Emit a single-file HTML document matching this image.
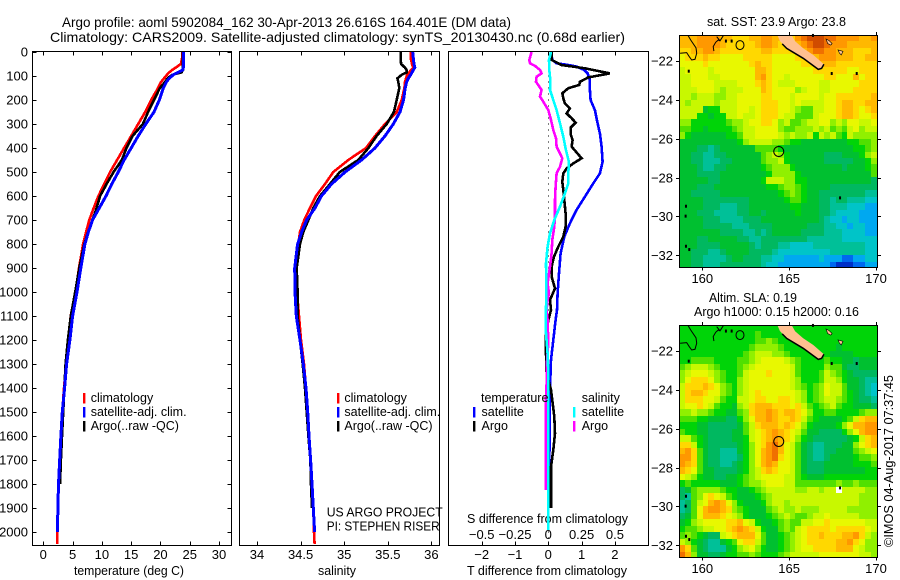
<!DOCTYPE html>
<html lang="en">
<head>
<meta charset="utf-8">
<title>Argo profile</title>
<style>
html,body{margin:0;padding:0;background:#fff;}
svg{display:block;}
text{font-family:"Liberation Sans",sans-serif;fill:#000;font-size:12.5px;}
.t{font-size:14px;}
.k{font-size:13px;}
</style>
</head>
<body>
<svg id="c" xmlns="http://www.w3.org/2000/svg" width="900" height="580" viewBox="0 0 900 580">
<text class="t" x="62" y="27" textLength="449" lengthAdjust="spacingAndGlyphs">Argo profile: aoml 5902084_162 30-Apr-2013 26.616S 164.401E (DM data)</text>
<text class="t" x="50" y="42" textLength="575" lengthAdjust="spacingAndGlyphs">Climatology: CARS2009. Satellite-adjusted climatology: synTS_20130430.nc (0.68d earlier)</text>
<text x="129" y="575" text-anchor="middle" textLength="110" lengthAdjust="spacingAndGlyphs">temperature (deg C)</text>
<text x="337" y="575" text-anchor="middle" textLength="38" lengthAdjust="spacingAndGlyphs">salinity</text>
<text x="467" y="575" textLength="160" lengthAdjust="spacingAndGlyphs">T difference from climatology</text>
<text x="467" y="523" textLength="161" lengthAdjust="spacingAndGlyphs">S difference from climatology</text>
<text x="326.7" y="516.5" textLength="116" lengthAdjust="spacingAndGlyphs">US ARGO PROJECT</text>
<text x="326.7" y="530.5" textLength="113" lengthAdjust="spacingAndGlyphs">PI: STEPHEN RISER</text>
<text x="707" y="26" textLength="139" lengthAdjust="spacingAndGlyphs">sat. SST: 23.9 Argo: 23.8</text>
<text x="709" y="302" textLength="88" lengthAdjust="spacingAndGlyphs">Altim. SLA: 0.19</text>
<text x="694" y="316" textLength="165" lengthAdjust="spacingAndGlyphs">Argo h1000: 0.15 h2000: 0.16</text>
<text transform="translate(893,547) rotate(-90)" textLength="172" lengthAdjust="spacingAndGlyphs">©IMOS 04-Aug-2017 07:37:45</text>
</svg>
<script>
// ----- profile data -----
const depths = [0,25,50,65,75,85,95,110,125,150,200,250,300,350,400,450,500,550,600,650,700,750,800,900,1000,1100,1200,1300,1400,1500,1600,1700,1800,1900,2000,2050];
const tempClim = [23.7,23.7,23.5,22.6,22.0,21.5,21.1,20.6,20.1,19.6,18.4,17.4,16.2,15.0,13.8,12.6,11.4,10.4,9.4,8.6,7.85,7.3,6.8,6.1,5.5,4.67,4.27,3.87,3.53,3.24,3.0,2.8,2.6,2.5,2.4,2.4];
const tempSat = [23.9,23.9,23.9,23.9,23.8,23.0,22.2,21.5,21.0,20.5,19.8,18.9,17.5,16.2,15.0,13.8,12.8,11.7,10.7,9.56,8.4,7.7,7.1,6.4,5.75,5.0,4.55,3.98,3.63,3.24,3.0,2.8,2.6,2.5,2.4];
const tempArgo = [23.85,23.85,23.85,23.85,23.85,23.6,22.0,21.2,20.8,19.9,18.9,17.9,17.0,15.25,14.2,13.4,12,10.8,9.7,9.1,8.4,7.65,7.0,6.15,5.45,4.7,4.2,3.8,3.6,3.4,3.2,3.0,2.85];
const salClim = [35.762,35.762,35.778,35.793,35.766,35.747,35.724,35.709,35.697,35.69,35.659,35.602,35.468,35.353,35.25,35.047,34.875,34.78,34.677,34.608,34.543,34.493,34.474,34.455,34.459,34.482,34.505,34.539,34.562,34.577,34.596,34.615,34.627,34.646,34.654,34.661];
const salSat = [35.785,35.793,35.80,35.81,35.793,35.778,35.762,35.735,35.716,35.70,35.68,35.64,35.563,35.468,35.353,35.2,35.01,34.856,34.74,34.665,34.57,34.512,34.466,34.432,34.436,34.451,34.493,34.531,34.562,34.581,34.596,34.615,34.631,34.646,34.661];
const salArgo = [35.648,35.648,35.652,35.697,35.716,35.716,35.659,35.61,35.62,35.632,35.602,35.57,35.487,35.372,35.277,35.162,34.95,34.837,34.722,34.646,34.589,34.531,34.493,34.455,34.466,34.466,34.493,34.524,34.55,34.57,34.589,34.612,34.619,34.631];

// ----- difference panel data -----
const dtSatDepth = [0,33,47,54,61,75,89,117,158,200,242,297,339,394,457,506,547,603,658,714,769,839,922,1006,1076,1117,1200,1283,1367,1436,1561,1644,1728,1850];
const dtSatValue = [0.08,0.12,0.25,0.6,0.85,1.08,1.18,1.25,1.25,1.27,1.4,1.48,1.55,1.6,1.63,1.55,1.35,1.1,0.85,0.65,0.48,0.37,0.32,0.28,0.26,0.22,0.15,0.08,0.06,0.05,0.04,0.04,0.02,0.01];
const dtArgoDepth = [0,33,54,68,89,106,124,137,151,172,193,214,235,256,276,294,314,346,367,394,415,443,464,485,506,540,575,617,672,728,769,811,853,894,936,985,1033,1075,1117,1179,1256,1339,1408,1519,1589,1658,1728,1811,1901];
const dtArgoValue = [0.1,0.1,0.4,1.1,1.85,1.2,0.95,0.93,0.6,0.42,0.45,0.5,0.65,0.55,0.7,0.82,0.68,0.68,0.73,0.7,0.83,1.0,0.75,0.55,0.45,0.42,0.45,0.48,0.52,0.52,0.45,0.3,0.17,0.1,0.1,0.2,0.05,0.08,0,-0.07,-0.07,-0.05,0.08,0.18,0.2,0.15,0.08,0.08,0.08];
const dsSatDepth = [0,33,75,117,158,200,242,297,353,408,457,506,547,589,644,700,756,811,881,978,1075,1089,1151,1256,1339,1436,1728,1992];
const dsSatValue = [0.02,0.005,0.0075,0.015,0.0125,0.0375,0.0625,0.0875,0.1125,0.1325,0.155,0.15,0.15,0.125,0.0875,0.045,0.0125,-0.005,-0.0175,-0.015,-0.0175,-0.02,-0.02,-0.005,0,0,0,0];
const dsArgoDepth = [0,33,47,58,75,89,103,124,158,186,207,242,283,325,360,394,443,478,506,561,617,672,728,783,839,894,964,1006,1033,1075,1117,1214,1311,1381,1436,1492,1589,1700,1825];
const dsArgoValue = [-0.125,-0.1425,-0.1375,-0.1,-0.0625,-0.05,-0.0875,-0.0925,-0.05,-0.0625,-0.0375,0,0.02,0.0375,0.0575,0.0625,0.105,0.0875,0.0625,0.055,0.05,0.05,0.045,0.03,0.025,0.0125,-0.005,0.005,-0.005,-0.0125,-0.005,0,-0.0125,-0.0125,-0.0175,-0.02,-0.02,-0.02,-0.0175];

// ----- tick labels -----
const depthTicks = [0,100,200,300,400,500,600,700,800,900,1000,1100,1200,1300,1400,1500,1600,1700,1800,1900,2000];
const tempTicks = [0,5,10,15,20,25,30];
const salTicks = [34,34.5,35,35.5,36];
const dtTicks = [-2,-1,0,1,2];
const dsTicks = [-0.5,-0.25,0,0.25,0.5];
const lonTicks = [160,165,170];
const latTicks = [-22,-24,-26,-28,-30,-32];

// ----- map data: one character per 1/3 degree cell, colour index into palette -----
const levelKeys = "0123456789abcdefg";
const levelColors = ["#0030c8","#0068f0","#00a8f0","#00c4c8","#00c098","#00b860","#00c030","#00d408","#50e000","#90f000","#c8f800","#e8f800","#ffd800","#ffb800","#ff9800","#f07000","#d04c00"];
const sstRows = [
"dddeeeeddcccddeeddccefgggffeeeedde",
"dddeeeedcccccdeedcccdefggfeeeddddd",
"ccddeedcccccccddcccccdeffeedddcccd",
"bcccdccbbbbcccccbbbbccddeeedddccdd",
"bbbbcbbbbbbbcdccbbbbbccddddccccccc",
"abbbbabbbbbbbddcbbbbbbbccccccbbccc",
"aabbbaabbbbbbdecbbabbbbbbccbbbdbcc",
"aabbbbaaaabbbcdcbaaabbbbaabbbbbccc",
"aaabbba9aaabbbdcbbbb9abbaabbbbcccc",
"aa9aaa99aabbbbccbbbabbbbabbccccccd",
"a9aaaa9aaabbbbcccbbabaaaabbcddccdd",
"aaaa677aaabbabcccbba988aabbcddcbcd",
"aaa77677aabaabcccbaa888abbbcddcbbc",
"99777777899abbccb9a889aabb9a9bbaab",
"88776777789aabbbb988999a9a898ab9aa",
"97666666778aabbbba9a99a7a9a87a9999",
"666666666679aaaa998776666666677889",
"6665545666666888876666666666667789",
"6655445566666689a9766666655566679a",
"66554445566666899a7666666555556679",
"6665445566666678999766666666566678",
"6665555666666667999976666666666668",
"666665566666667aaa9977666666666665",
"6665556666666667789987666655555555",
"6655555666666666678987665555555544",
"6666555555556666667887665545544433",
"6666555444556666666776665544433322",
"6665554444556656666676665543333222",
"6666555444455566666666665433233222",
"6666555554445555666666555443323322",
"6666666555544545666665555444333322",
"6665566666554455555555444444333333",
"6665555666665455544333344444444433",
"6655544566665555433333333344444433",
"6655444456655544332222223222112233",
"6655444555555543322222222210001122"
];
const slaRows = [
"7777777777777777777777777777777777",
"7777777777777877777777777777777777",
"7777777777777889877777777777777777",
"7777777777778999987777777776777777",
"7777777777789aaa998777777766667777",
"7788887777889abbbba987777877665666",
"89aaa9877789abbbbbba87777988655666",
"9abbba98778abbbcbbba87778a98765555",
"9bcccb98779abbbbbbba97778aa9766544",
"acccdcb9879abbbbbbba98789baa866543",
"acddcbb9879abcbbbbbba9789baa876543",
"acccbba877aabccbbccba9789aa9876554",
"abbcba87769acdddcccbca8789a8776665",
"99a998776689cddedcddcb977887777899",
"888776665579bddedccdca87666678acdd",
"777665555568acdddcdcb97666679bddee",
"877665555668abcdedcba866555579bdee",
"aa8765555667abcdedcb97655555567acd",
"cca7655555679bcefdba86544555669bcd",
"dec8655444679bdefdba865445566689ab",
"eec8655444579bdefcba86544566667889",
"edc8655445679bdedbba86555666667778",
"dcb8665555679acdcbba86555666666677",
"ba97665566789abbbbaa87666777777777",
"78777776667899abbbaa88888889889888",
"568999987766789aaaaa99aa9aawaaaa99",
"5489bcba87666789aaaaaaaaaaaaaaa999",
"458abdedb9766679aa9aaaaaaaaaaaa999",
"458bdeedc98766689a99a999aaaaa99999",
"568bdddcba97666789a9889aabaaaaa999",
"679abbbbccdba76678988aabbcbbbbbbaa",
"7889aabbcdedca766898abccccbcccccba",
"8987655abcdddb866789abccdcccddeca9",
"a976544678bcca866789abcccccddecb99",
"ec865444679ab9766789abbccccdddba99",
"fd96655677889877789aaaaabbbbbbbaa9"
];

// ----- geography -----
const islandLon = [164.32,165.15,165.34,165.81,166.39,167.0,166.87,166.68,165.81,164.86,164.47];
const islandLat = [-20.66,-20.68,-20.98,-21.34,-21.69,-22.17,-22.38,-22.43,-21.86,-21.35,-20.97];
const shoreLon = [164.6,164.86,165.81,166.68,166.87,167.0];
const shoreLat = [-21.12,-21.35,-21.86,-22.43,-22.38,-22.17];
const contourALon = [159.19,159.33,159.64,159.68,159.58,159.39,159.25,159.10,158.72];
const contourALat = [-20.70,-20.92,-21.32,-21.60,-21.91,-21.95,-21.78,-21.57,-21.60];
const contourBLon = [160.67,160.63,160.77,160.92,161.02,161.21];
const contourBLat = [-21.49,-21.26,-21.04,-20.92,-20.96,-20.70];
const contourCLon = [160.83,161.02];
const contourCLat = [-20.75,-20.96];
const smallIslandLon = [161.36,161.69,159.22,159.06,159.04,159.06,159.25,167.93,167.45,168.89,166.37];
const smallIslandLat = [-21.0,-21.0,-22.55,-29.5,-30.01,-31.56,-31.73,-29.07,-22.67,-22.67,-20.71];
const loyaltyALon = [167.12,167.3,167.47,167.4,167.22];
const loyaltyALat = [-20.87,-20.95,-21.1,-21.18,-21.1];
const loyaltyBLon = [167.81,168.1,168.0,167.9];
const loyaltyBLat = [-21.43,-21.5,-21.69,-21.6];
const ringLonLat = [164.401,-26.616];

// ----- layout and scales -----
const svg = document.getElementById('c');
const NS = 'http://www.w3.org/2000/svg';
const yDepth = d => 52 + 0.24 * d;
const xTemp = t => 43.3 + 5.857 * t;
const xSal = s => 257 + 87.2 * (s - 34);
const xDT = t => 548.3 + 33.3 * t;
const xDS = s => 548.3 + 133.2 * s;
const xLon = lon => 702.3 + 17.37 * (lon - 160);
const yLat = (lat, top) => top + 26 + 19.43 * (-22 - lat);

function mk(tag, attrs, parent) {
  const e = document.createElementNS(NS, tag);
  for (const k in attrs) e.setAttribute(k, attrs[k]);
  (parent || svg).appendChild(e);
  return e;
}
function label(str, x, y, anchor, cls, name) {
  const e = mk('text', {x: x, y: y, 'text-anchor': anchor, class: cls || ''});
  e.textContent = str;
  
  
  return e;
}
function tickLine(x1, y1, x2, y2, name) {
  const e = mk('line', {x1: x1, y1: y1, x2: x2, y2: y2, stroke: '#000', 'stroke-width': 1, 'shape-rendering': 'crispEdges'});
  
  
}
function frame(x0, y0, x1, y1, name) {
  const e = mk('rect', {x: x0, y: y0, width: x1 - x0, height: y1 - y0, fill: 'none', stroke: '#000', 'stroke-width': 1.4, 'shape-rendering': 'crispEdges'});
  
  
}
function profile(xf, ds, vals, color, name, width) {
  const pts = vals.map((v, i) => xf(v).toFixed(1) + ',' + yDepth(ds[i]).toFixed(1)).join(' ');
  const e = mk('polyline', {points: pts, fill: 'none', stroke: color, 'stroke-width': width, 'stroke-linejoin': 'miter', 'shape-rendering': 'crispEdges'});
  
  
}
function legendBar(x, y, color, name) {
  const e = mk('rect', {x: x, y: y, width: 2.4, height: 10.5, fill: color});
  
  
}

const TOP = 51.5, BOT = 545.5;

// panel 1: temperature
profile(xTemp, depths, tempClim, '#ff0000', 'temperature-climatology-line', 2.6);
profile(xTemp, depths, tempArgo, '#000000', 'temperature-argo-line', 2.6);
profile(xTemp, depths, tempSat, '#0000ff', 'temperature-satellite-line', 3);
frame(32.5, TOP, 231.5, BOT, 'temperature-panel-frame');
depthTicks.forEach(d => {
  tickLine(32.5, Math.round(yDepth(d)) + .5, 36.5, Math.round(yDepth(d)) + .5, 'depth-tick-left');
  tickLine(227.5, Math.round(yDepth(d)) + .5, 231.5, Math.round(yDepth(d)) + .5, 'depth-tick-right');
  label(String(d), 28, yDepth(d) + 4.7, 'end', 'k', 'depth-tick-label');
});
tempTicks.forEach(t => {
  tickLine(Math.round(xTemp(t)) + .5, TOP, Math.round(xTemp(t)) + .5, TOP + 4, 'temperature-tick-top');
  tickLine(Math.round(xTemp(t)) + .5, BOT - 4, Math.round(xTemp(t)) + .5, BOT, 'temperature-tick-bottom');
  label(String(t), xTemp(t), 559, 'middle', 'k', 'temperature-tick-label');
});

// panel 2: salinity
profile(xSal, depths, salClim, '#ff0000', 'salinity-climatology-line', 2.6);
profile(xSal, depths, salArgo, '#000000', 'salinity-argo-line', 2.6);
profile(xSal, depths, salSat, '#0000ff', 'salinity-satellite-line', 3);
frame(239.5, TOP, 439.5, BOT, 'salinity-panel-frame');
salTicks.forEach(s => {
  tickLine(Math.round(xSal(s)) + .5, TOP, Math.round(xSal(s)) + .5, TOP + 4, 'salinity-tick-top');
  tickLine(Math.round(xSal(s)) + .5, BOT - 4, Math.round(xSal(s)) + .5, BOT, 'salinity-tick-bottom');
  label(String(s), xSal(s), 559, 'middle', 'k', 'salinity-tick-label');
});

// panel 3: differences
const zeroLine = mk('line', {x1: xDT(0), y1: TOP, x2: xDT(0), y2: BOT, stroke: '#000', 'stroke-width': 1, 'stroke-dasharray': '1 5', 'shape-rendering': 'crispEdges'});


profile(xDT, dtSatDepth, dtSatValue, '#0000ff', 'delta-t-satellite-line', 2.6);
profile(xDT, dtArgoDepth, dtArgoValue, '#000000', 'delta-t-argo-line', 2.6);
profile(xDS, dsArgoDepth, dsArgoValue, '#ff00ff', 'delta-s-argo-line', 2.6);
profile(xDS, dsSatDepth, dsSatValue, '#00ffff', 'delta-s-satellite-line', 2.6);
frame(448.5, TOP, 648.5, BOT, 'difference-panel-frame');
dtTicks.forEach(t => {
  tickLine(Math.round(xDT(t)) + .5, TOP, Math.round(xDT(t)) + .5, TOP + 4, 'delta-t-tick-top');
  tickLine(Math.round(xDT(t)) + .5, BOT - 4, Math.round(xDT(t)) + .5, BOT, 'delta-t-tick-bottom');
  label(String(t).replace('-', '\u2212'), xDT(t), 559, 'middle', 'k', 'delta-t-tick-label');
});
dsTicks.forEach(s => {
  label(String(s).replace('-', '\u2212'), xDS(s), 539, 'middle', 'k', 'delta-s-tick-label');
});

// legends
legendBar(83, 393, '#ff0000', 'legend-temp-climatology-swatch');
legendBar(83, 407, '#0000ff', 'legend-temp-satellite-swatch');
legendBar(83, 421, '#000000', 'legend-temp-argo-swatch');
label('climatology', 90.7, 402, 'start', '', 'legend-temp-climatology');
label('satellite-adj. clim.', 90.7, 416, 'start', '', 'legend-temp-satellite');
label('Argo(..raw -QC)', 90.7, 430, 'start', '', 'legend-temp-argo');
legendBar(337, 393, '#ff0000', 'legend-sal-climatology-swatch');
legendBar(337, 407, '#0000ff', 'legend-sal-satellite-swatch');
legendBar(337, 421, '#000000', 'legend-sal-argo-swatch');
label('climatology', 344.4, 402, 'start', '', 'legend-sal-climatology');
label('satellite-adj. clim.', 344.4, 416, 'start', '', 'legend-sal-satellite');
label('Argo(..raw -QC)', 344.4, 430, 'start', '', 'legend-sal-argo');
label('temperature', 481, 402, 'start', '', 'legend-diff-temperature-heading');
label('satellite', 481.5, 416, 'start', '', 'legend-diff-temp-satellite');
label('Argo', 481.5, 430, 'start', '', 'legend-diff-temp-argo');
label('salinity', 581.7, 402, 'start', '', 'legend-diff-salinity-heading');
label('satellite', 581.7, 416, 'start', '', 'legend-diff-sal-satellite');
label('Argo', 581.7, 430, 'start', '', 'legend-diff-sal-argo');
legendBar(473, 407, '#0000ff', 'legend-diff-temp-satellite-swatch');
legendBar(473, 421, '#000000', 'legend-diff-temp-argo-swatch');
legendBar(573, 407, '#00ffff', 'legend-diff-sal-satellite-swatch');
legendBar(573, 421, '#ff00ff', 'legend-diff-sal-argo-swatch');

// maps
function polyPts(lons, lats, top) {
  return lons.map((l, i) => xLon(l).toFixed(1) + ',' + yLat(lats[i], top).toFixed(1)).join(' ');
}
function drawMap(rows, top, name) {
  const lon0 = 158.69, lat0 = -20.66;
  const bottom = top + 232;
  const g = mk('g', {'shape-rendering': 'crispEdges'});
  
  
  rows.forEach((row, r) => {
    const y0 = Math.round(yLat(lat0 - r / 3, top));
    const y1 = r === rows.length - 1 ? bottom : Math.round(yLat(lat0 - (r + 1) / 3, top));
    for (let c = 0; c < 34; c++) {
      const ch = row[c] || row[row.length - 1];
      const x0 = Math.round(xLon(lon0 + c / 3));
      const x1 = c === 33 ? 878 : Math.round(xLon(lon0 + (c + 1) / 3));
      const color = ch === 'w' ? '#ffffff' : levelColors[levelKeys.indexOf(ch)];
      const cell = mk('rect', {x: x0, y: y0, width: x1 - x0, height: y1 - y0, fill: color}, g);
      
      
    }
  });
  const land = mk('polygon', {points: polyPts(islandLon, islandLat, top), fill: '#ffc090', stroke: 'none'});
  
  
  [[loyaltyALon, loyaltyALat], [loyaltyBLon, loyaltyBLat]].forEach(p => {
    const isl = mk('polygon', {points: polyPts(p[0], p[1], top), fill: '#ffc090', stroke: '#000', 'stroke-width': .6});
    
    
  });
  const shore = mk('polyline', {points: polyPts(shoreLon, shoreLat, top), fill: 'none', stroke: '#000', 'stroke-width': 1.5});
  
  
  [[contourALon, contourALat], [contourBLon, contourBLat], [contourCLon, contourCLat]].forEach(p => {
    const ct = mk('polyline', {points: polyPts(p[0], p[1], top), fill: 'none', stroke: '#000', 'stroke-width': 1});
    
    
  });
  const reef = mk('ellipse', {cx: xLon(162.17), cy: yLat(-21.18, top), rx: 4, ry: 4.5, fill: 'none', stroke: '#000', 'stroke-width': 1});
  
  
  smallIslandLon.forEach((l, i) => {
    const isl = mk('rect', {x: xLon(l) - 1, y: yLat(smallIslandLat[i], top) - 2, width: 2, height: 3, fill: '#000'});
    
    
  });
  const ring = mk('circle', {cx: xLon(ringLonLat[0]), cy: yLat(ringLonLat[1], top) + .8, r: 5, fill: 'none', stroke: '#000', 'stroke-width': 1});
  
  
  frame(679.5, top + .5, 877.5, bottom + .5, name + '-frame');
  lonTicks.forEach(l => {
    const px = Math.round(xLon(l)) + .5;
    tickLine(px, top - 3, px, top, name + '-lon-tick-top');
    tickLine(px, bottom + .5, px, bottom + 3.5, name + '-lon-tick-bottom');
    label(String(l), xLon(l), bottom + 16, 'middle', 'k', name + '-lon-label');
  });
  latTicks.forEach(l => {
    const py = Math.round(yLat(l, top)) + .5;
    tickLine(676, py, 679.5, py, name + '-lat-tick-left');
    tickLine(877.5, py, 881, py, name + '-lat-tick-right');
    label(String(l).replace('-', '\u2212'), 673, yLat(l, top) + 4.7, 'end', 'k', name + '-lat-label');
  });
}
drawMap(sstRows, 35, 'sst-map');
drawMap(slaRows, 325, 'sla-map');
</script>
</body>
</html>
